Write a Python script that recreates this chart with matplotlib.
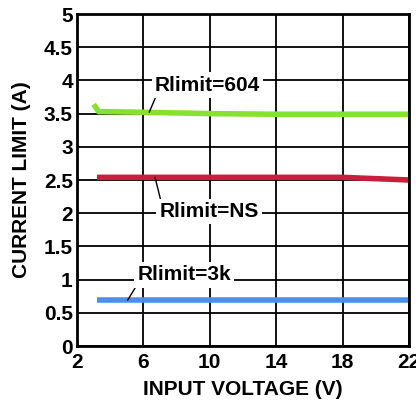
import matplotlib
matplotlib.use("Agg")
import matplotlib.pyplot as plt

plt.rcParams['font.family'] = ['Liberation Sans', 'DejaVu Sans']
plt.rcParams['font.weight'] = 'bold'
plt.rcParams['axes.labelweight'] = 'bold'

# input voltage (V) vs current limit (A)
v_604 = [3.0, 3.3, 6, 10, 14, 18, 22]
i_604 = [3.64, 3.53, 3.52, 3.50, 3.49, 3.49, 3.49]

v_ns = [3.2, 6, 10, 14, 18, 20, 22]
i_ns = [2.54, 2.54, 2.54, 2.54, 2.54, 2.52, 2.50]

v_3k = [3.2, 6, 10, 14, 18, 22]
i_3k = [0.69, 0.69, 0.69, 0.69, 0.69, 0.69]

x_ticks = [2, 6, 10, 14, 18, 22]
y_ticks = [0, 0.5, 1, 1.5, 2, 2.5, 3, 3.5, 4, 4.5, 5]
y_labels = ['0', '0.5', '1', '1.5', '2', '2.5', '3', '3.5', '4', '4.5', '5']

fig = plt.figure(figsize=(4.16, 4.04), dpi=100)
ax = fig.add_axes([77 / 416, 1 - 346 / 404, 332 / 416, 332 / 404])

ax.plot(v_604, i_604, color='#88e030', linewidth=4, solid_capstyle='butt', zorder=3)
ax.plot(v_ns, i_ns, color='#c8203c', linewidth=4, solid_capstyle='butt', zorder=3)
ax.plot(v_3k, i_3k, color='#4a90ea', linewidth=4, solid_capstyle='butt', zorder=3)

ax.set_xlim(2, 22)
ax.set_ylim(0, 5)
ax.set_xticks(x_ticks)
ax.set_xticklabels([str(t) for t in x_ticks], fontweight='bold', fontsize=15)
ax.set_yticks(y_ticks)
ax.set_yticklabels(y_labels, fontweight='bold', fontsize=15)
ax.grid(True, color='black', linewidth=1.3)
ax.tick_params(axis='x', length=0, pad=5)
ax.tick_params(axis='y', length=0, pad=3)
for s in ax.spines.values():
    s.set_linewidth(2)
    s.set_zorder(4)

ax.set_xlabel('INPUT VOLTAGE (V)', fontsize=15, fontweight='bold', labelpad=6)
ax.set_ylabel('CURRENT LIMIT (A)', fontsize=15, fontweight='bold', labelpad=9)

box = dict(boxstyle='square,pad=0.15', fc='white', ec='none')
ax.annotate('Rlimit=604', xy=(6.35, 3.52), xytext=(9.85, 3.93), fontsize=15,
            fontweight='bold', ha='center', va='center', bbox=box, zorder=5,
            arrowprops=dict(arrowstyle='-', color='black', lw=1,
                            shrinkA=0, shrinkB=0, relpos=(0.02, 0.0)))
ax.annotate('Rlimit=NS', xy=(6.7, 2.54), xytext=(9.95, 2.02), fontsize=15,
            fontweight='bold', ha='center', va='center', bbox=box, zorder=5,
            arrowprops=dict(arrowstyle='-', color='black', lw=1,
                            shrinkA=0, shrinkB=0, relpos=(0.02, 1.0)))
ax.annotate('Rlimit=3k', xy=(5.05, 0.69), xytext=(8.45, 1.07), fontsize=15,
            fontweight='bold', ha='center', va='center', bbox=box, zorder=5,
            arrowprops=dict(arrowstyle='-', color='black', lw=1,
                            shrinkA=0, shrinkB=0, relpos=(0.0, 0.0)))

fig.savefig('out.png', dpi=100)
